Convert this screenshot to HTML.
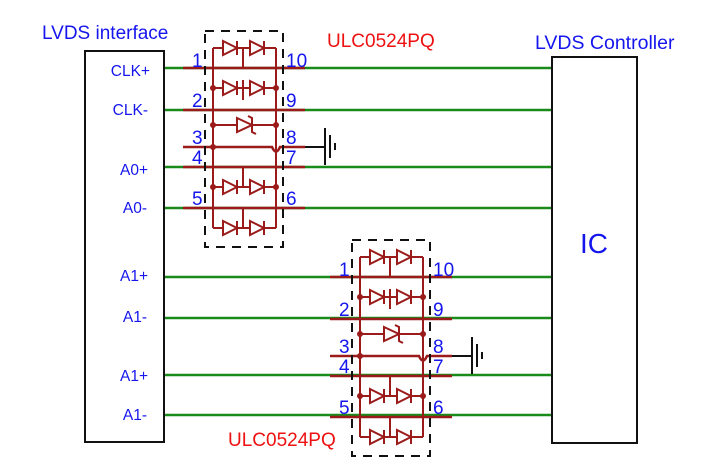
<!DOCTYPE html>
<html><head><meta charset="utf-8"><style>
html,body{margin:0;padding:0;background:#fff;width:714px;height:473px;overflow:hidden}
svg{display:block}
text{font-family:"Liberation Sans","DejaVu Sans",sans-serif}
</style></head><body>
<svg width="714" height="473" viewBox="0 0 714 473" xmlns="http://www.w3.org/2000/svg">
<defs>
<g id="dd" fill="none" stroke="#9b1b1b" stroke-width="2">
  <path d="M0 0 H10 M24 0 H37 M51 0 H63"/>
  <path d="M10 -7 L24 0 L10 7 Z M24 -7 V7"/>
  <path d="M37 -7 L51 0 L37 7 Z M51 -7 V7"/>
</g>
<g id="chip">
  <g fill="none" stroke="#9b1b1b" stroke-width="2">
    <path d="M213 48 V228 M276 48 V228"/>
    <path d="M243 48 V68 M243 80 V100 M243 167 V187 M243 208 V228"/>
    <path d="M213 125 H237 M252 125 H276"/>
    <path d="M237 118 L252 125 L237 132 Z M248 116 L252 118 V132 L256 134"/>
  </g>
  <g fill="none" stroke="#9b1b1b" stroke-width="2.6">
    <path d="M183 68 H305 M183 110 H305 M183 147 H272 Q276 156 280 147 H305 M183 167 H305 M183 208 H305"/>
  </g>
  <use href="#dd" x="213" y="48"/>
  <use href="#dd" x="213" y="88"/>
  <use href="#dd" x="213" y="187"/>
  <use href="#dd" x="213" y="228"/>
  <g fill="#9b1b1b">
    <circle cx="213" cy="88" r="3"/><circle cx="276" cy="88" r="3"/>
    <circle cx="213" cy="125" r="3"/><circle cx="276" cy="125" r="3"/>
    <circle cx="213" cy="147" r="3"/>
    <circle cx="213" cy="187" r="3"/><circle cx="276" cy="187" r="3"/>
  </g>
  <rect x="205" y="31" width="78" height="216" fill="none" stroke="#111" stroke-width="2" stroke-dasharray="9,7"/>
  <g stroke="#111" stroke-width="2" fill="none">
    <path d="M305 147 H325 M325 128 V165 M330 135 V158 M335 143 V150"/>
  </g>
</g>
</defs>

<g stroke="#1a8a1a" stroke-width="2.5">
  <path d="M164 68 H552 M164 110 H552 M164 167 H552 M164 208 H552 M164 277 H552 M164 318 H552 M164 375 H552 M164 415 H552"/>
</g>

<use href="#chip"/>
<use href="#chip" x="147" y="209"/>

<rect x="85" y="51" width="79" height="391" fill="#fff" stroke="#111" stroke-width="2"/>
<rect x="552" y="57" width="85" height="386" fill="#fff" stroke="#111" stroke-width="2"/>

<g fill="#1515ee">
  <text x="42" y="39" font-size="19">LVDS interface</text>
  <text x="535" y="49" font-size="19.5">LVDS Controller</text>
  <text x="580" y="253" font-size="28">IC</text>
  <g font-size="15.5" text-anchor="end">
    <text x="150" y="76">CLK+</text>
    <text x="148" y="115">CLK-</text>
    <text x="148" y="175">A0+</text>
    <text x="147" y="213">A0-</text>
    <text x="148" y="281">A1+</text>
    <text x="147" y="322">A1-</text>
    <text x="148" y="381">A1+</text>
    <text x="147" y="420">A1-</text>
  </g>
  <g font-size="19">
    <text x="192" y="67">1</text><text x="286" y="67">10</text>
    <text x="192" y="107">2</text><text x="286" y="107">9</text>
    <text x="192" y="144">3</text><text x="286" y="144">8</text>
    <text x="192" y="164">4</text><text x="286" y="164">7</text>
    <text x="192" y="205">5</text><text x="286" y="205">6</text>
    <text x="339" y="276">1</text><text x="433" y="276">10</text>
    <text x="339" y="316">2</text><text x="433" y="316">9</text>
    <text x="339" y="353">3</text><text x="433" y="353">8</text>
    <text x="339" y="373">4</text><text x="433" y="373">7</text>
    <text x="339" y="414">5</text><text x="433" y="414">6</text>
  </g>
</g>
<g fill="#ee1111" font-size="19">
  <text x="327" y="47">ULC0524PQ</text>
  <text x="228" y="446">ULC0524PQ</text>
</g>
</svg>
</body></html>
